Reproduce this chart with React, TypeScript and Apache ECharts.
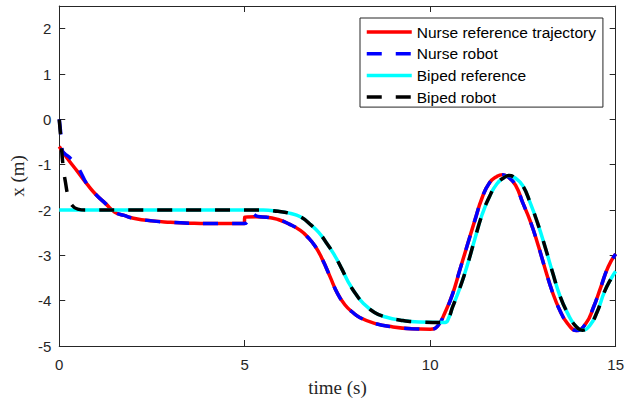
import React, { useEffect, useRef } from 'react';
import * as echarts from 'echarts';

// Nurse reference trajectory (red)
const nurseRefT = [0, 0.2, 0.5, 0.75, 1.0, 1.25, 1.5, 1.75, 2.0, 2.5, 3.0, 3.5, 4.0, 4.5, 4.99, 5.0, 5.3, 5.6, 5.9, 6.2, 6.5, 6.7, 6.9, 7.1, 7.3, 7.5, 7.7, 7.9, 8.1, 8.5, 9.0, 9.5, 10.0, 10.2, 10.4, 10.6, 10.8, 11.0, 11.2, 11.4, 11.6, 11.8, 11.95, 12.1, 12.3, 12.5, 12.7, 12.9, 13.1, 13.3, 13.5, 13.7, 13.95, 14.2, 14.4, 14.6, 14.8, 15.0];
const nurseRefX = [-0.6, -0.84, -1.16, -1.43, -1.67, -1.86, -2.05, -2.12, -2.18, -2.24, -2.27, -2.29, -2.3, -2.3, -2.3, -2.16, -2.15, -2.16, -2.21, -2.31, -2.45, -2.6, -2.8, -3.1, -3.47, -3.84, -4.09, -4.25, -4.37, -4.5, -4.58, -4.62, -4.63, -4.56, -4.26, -3.86, -3.32, -2.78, -2.24, -1.73, -1.4, -1.26, -1.22, -1.27, -1.45, -1.85, -2.25, -2.75, -3.3, -3.82, -4.22, -4.5, -4.66, -4.5, -4.15, -3.7, -3.25, -2.97];

// Nurse robot (blue dashed)
const nurseRobotT = [0, 0.04, 0.08, 0.15, 0.25, 0.35, 0.45, 0.55, 0.75, 1.0, 1.25, 1.5, 1.75, 2.0, 2.5, 3.0, 3.5, 4.0, 4.5, 4.99, 5.18, 5.35, 5.6, 5.9, 6.2, 6.5, 6.7, 6.9, 7.1, 7.3, 7.5, 7.7, 7.9, 8.1, 8.5, 9.0, 9.5, 10.0, 10.2, 10.4, 10.6, 10.8, 11.0, 11.2, 11.4, 11.6, 11.8, 11.95, 12.1, 12.3, 12.5, 12.7, 12.9, 13.1, 13.3, 13.5, 13.7, 13.95, 14.2, 14.4, 14.6, 14.8, 15.0];
const nurseRobotX = [0, -0.3, -0.68, -0.76, -0.82, -0.9, -0.98, -1.12, -1.43, -1.67, -1.86, -2.05, -2.12, -2.18, -2.24, -2.27, -2.29, -2.3, -2.3, -2.3, -2.07, -2.14, -2.16, -2.21, -2.31, -2.45, -2.6, -2.8, -3.1, -3.47, -3.84, -4.09, -4.25, -4.37, -4.5, -4.58, -4.62, -4.63, -4.56, -4.26, -3.86, -3.32, -2.78, -2.24, -1.73, -1.4, -1.26, -1.22, -1.27, -1.45, -1.85, -2.25, -2.75, -3.3, -3.82, -4.22, -4.5, -4.66, -4.5, -4.15, -3.7, -3.25, -2.97];

// Biped reference (cyan)
const bipedRefT = [0, 5.5, 5.9, 6.2, 6.5, 6.8, 7.0, 7.2, 7.4, 7.6, 7.8, 8.0, 8.2, 8.5, 8.8, 9.2, 9.7, 10.4, 10.5, 10.6, 10.8, 11.0, 11.2, 11.4, 11.6, 11.8, 12.0, 12.12, 12.3, 12.5, 12.7, 12.9, 13.1, 13.3, 13.5, 13.7, 13.9, 14.1, 14.3, 14.5, 14.7, 14.9, 15.0];
const bipedRefX = [-2, -2, -2.03, -2.07, -2.15, -2.34, -2.5, -2.72, -2.97, -3.27, -3.6, -3.86, -4.06, -4.26, -4.36, -4.43, -4.47, -4.48, -4.38, -4.15, -3.72, -3.22, -2.65, -2.1, -1.7, -1.42, -1.28, -1.24, -1.3, -1.47, -1.85, -2.3, -2.82, -3.38, -3.9, -4.27, -4.54, -4.65, -4.55, -4.25, -3.8, -3.48, -3.35];

// Biped robot (black dashed)
const bipedRobotT = [0, 0.05, 0.1, 0.17, 0.25, 0.35, 0.5, 0.7, 5.5, 5.9, 6.2, 6.5, 6.8, 7.0, 7.2, 7.4, 7.6, 7.8, 8.0, 8.2, 8.5, 8.8, 9.2, 9.7, 10.4, 10.5, 10.6, 10.8, 11.0, 11.2, 11.4, 11.6, 11.8, 12.0, 12.12, 12.3, 12.5, 12.7, 12.9, 13.1, 13.3, 13.5, 13.7, 13.9, 14.1, 14.3, 14.5, 14.7, 14.9, 15.0];
const bipedRobotX = [0, -0.5, -1.0, -1.4, -1.72, -1.9, -1.98, -2.0, -2, -2.03, -2.07, -2.15, -2.34, -2.5, -2.72, -2.97, -3.27, -3.6, -3.86, -4.06, -4.26, -4.36, -4.43, -4.47, -4.48, -4.38, -4.15, -3.72, -3.22, -2.65, -2.1, -1.7, -1.42, -1.28, -1.24, -1.3, -1.47, -1.85, -2.3, -2.82, -3.38, -3.9, -4.27, -4.54, -4.65, -4.55, -4.25, -3.8, -3.48, -3.35];

const seriesNames = ['Nurse reference trajectory', 'Nurse robot', 'Biped reference', 'Biped robot'];

const pairs = (t: number[], v: number[]) => t.map((ti, i) => [ti, v[i]]);

const AXIS = '#262626';

export default function App() {
  const ref = useRef<HTMLDivElement>(null);
  useEffect(() => {
    document.body.style.margin = '0';
    if (!ref.current) return;
    const chart = echarts.init(ref.current, undefined, { renderer: 'svg' });
    const tickCommon = { show: true, inside: true, length: 6, lineStyle: { color: AXIS, width: 1 } };
    const lineCommon = { show: true, onZero: false, lineStyle: { color: AXIS, width: 1 } };
    const labelFont = { fontFamily: 'Liberation Sans', fontSize: 15, color: AXIS };
    const mk = (name: string, data: number[][], color: string, dashed: boolean) => ({
      name,
      type: 'line',
      data,
      xAxisIndex: 0,
      yAxisIndex: 0,
      showSymbol: false,
      symbol: 'none',
      smooth: 0.5,
      lineStyle: { color, width: 3.5, type: dashed ? [15, 14] : 'solid', cap: 'butt' },
      itemStyle: { color },
      emphasis: { disabled: true },
    });
    chart.setOption({
      animation: false,
      grid: { left: 56, right: 10, top: 6, bottom: 58, containLabel: false },
      legend: {
        orient: 'vertical',
        left: 360,
        top: 18,
        data: seriesNames,
        itemWidth: 45,
        itemHeight: 14,
        itemGap: 5.7,
        padding: [6, 7, 2, 5],
        backgroundColor: '#ffffff',
        borderColor: AXIS,
        borderWidth: 1,
        itemStyle: { opacity: 0 },
        lineStyle: { width: 3.5 },
        textStyle: { fontFamily: 'Liberation Sans', fontSize: 15.5, lineHeight: 16, color: '#000' },
      },
      xAxis: [
        {
          type: 'value', min: 0, max: 15, interval: 5, position: 'bottom',
          axisLine: lineCommon, axisTick: tickCommon, splitLine: { show: false },
          axisLabel: { ...labelFont, margin: 11 },
          name: 'time (s)', nameLocation: 'middle', nameGap: 32,
          nameTextStyle: { fontFamily: 'Liberation Serif', fontSize: 19, color: AXIS },
        },
        {
          type: 'value', min: 0, max: 15, interval: 5, position: 'top',
          axisLine: lineCommon, axisTick: tickCommon, splitLine: { show: false },
          axisLabel: { show: false },
        },
      ],
      yAxis: [
        {
          type: 'value', min: -5, max: 2.5, interval: 1, position: 'left',
          axisLine: lineCommon, axisTick: tickCommon, splitLine: { show: false },
          axisLabel: { ...labelFont, margin: 8, showMaxLabel: false },
          name: 'x (m)', nameLocation: 'middle', nameGap: 30,
          nameTextStyle: { fontFamily: 'Liberation Serif', fontSize: 19, color: AXIS },
        },
        {
          type: 'value', min: -5, max: 2.5, interval: 1, position: 'right',
          axisLine: lineCommon, axisTick: tickCommon, splitLine: { show: false },
          axisLabel: { show: false },
        },
      ],
      series: [
        mk(seriesNames[0], pairs(nurseRefT, nurseRefX), '#ff0000', false),
        mk(seriesNames[1], pairs(nurseRobotT, nurseRobotX), '#0000ff', true),
        mk(seriesNames[2], pairs(bipedRefT, bipedRefX), '#00ffff', false),
        mk(seriesNames[3], pairs(bipedRobotT, bipedRobotX), '#000000', true),
      ],
    });
    return () => chart.dispose();
  }, []);
  return <div ref={ref} style={{ width: 627, height: 404 }} />;
}
